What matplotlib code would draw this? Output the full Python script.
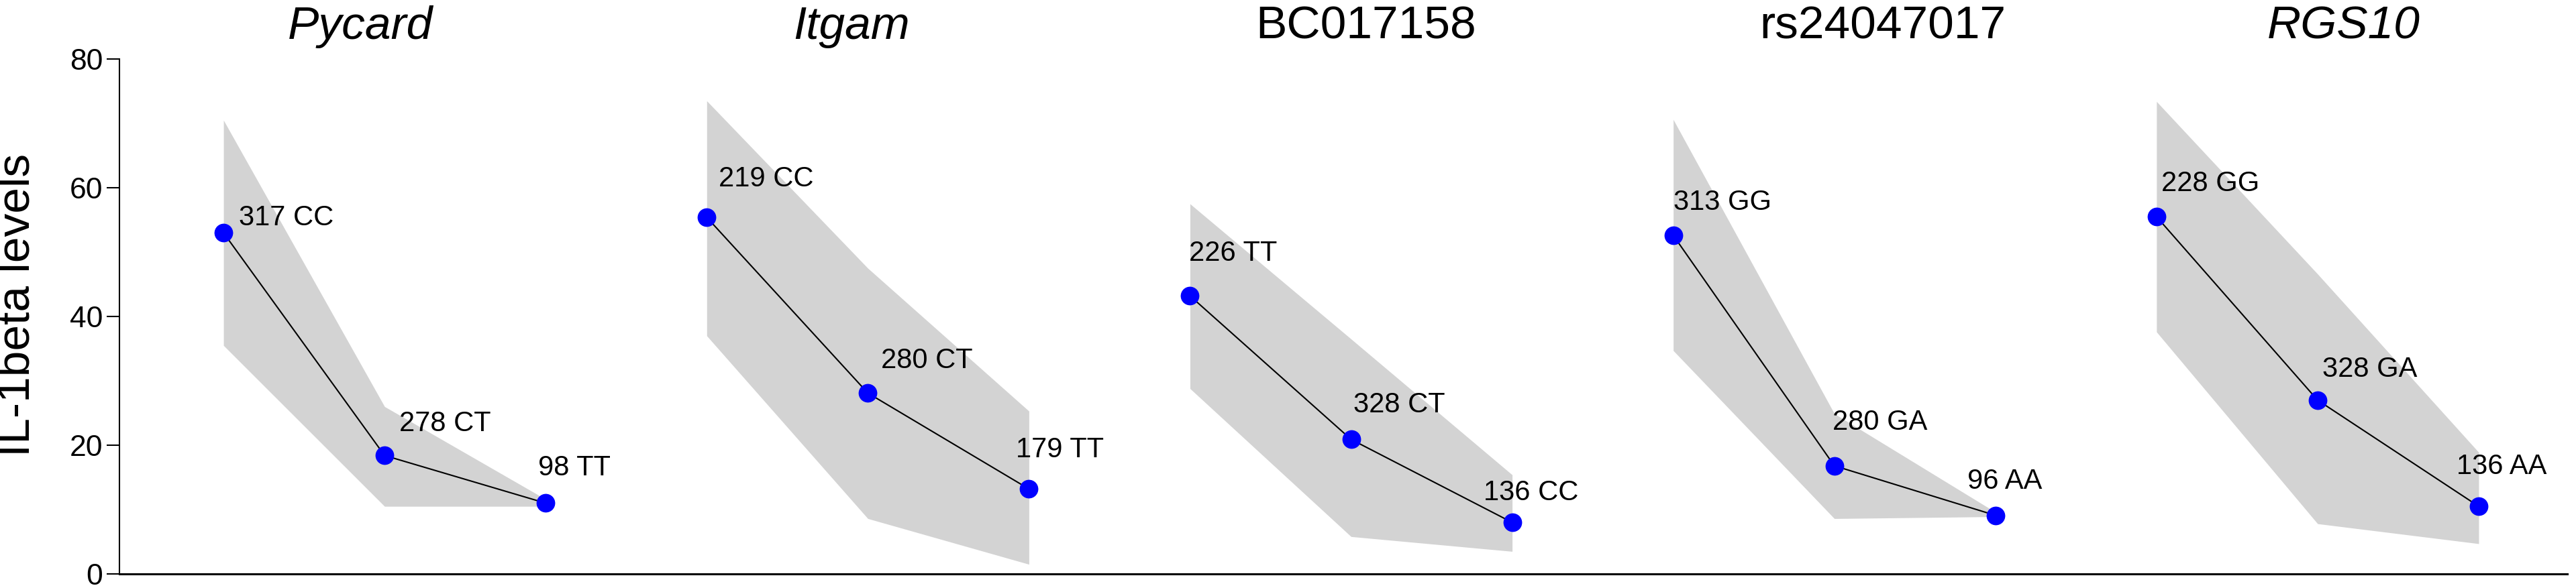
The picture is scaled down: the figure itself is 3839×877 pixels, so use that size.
import matplotlib
matplotlib.use('Agg')
import matplotlib.pyplot as plt
import matplotlib.transforms as mtransforms

matplotlib.rc('font', family=['Liberation Sans', 'DejaVu Sans'])

# data, one group of three genotypes per gene / marker
genes = ['Pycard', 'Itgam', 'BC017158', 'rs24047017', 'RGS10']
italic = [True, True, False, False, True]

means = [[53.0, 18.4, 11.0],
         [55.4, 28.1, 13.2],
         [43.2, 20.9, 8.0],
         [52.6, 16.8, 9.1],
         [55.5, 27.0, 10.5]]
upper = [[70.5, 26.0, 11.6],
         [73.5, 47.5, 25.3],
         [57.5, 36.5, 15.4],
         [70.6, 24.9, 9.6],
         [73.4, 46.6, 18.9]]
lower = [[35.5, 10.5, 10.5],
         [37.0, 8.6, 1.5],
         [28.8, 5.8, 3.5],
         [34.7, 8.6, 8.9],
         [37.6, 7.8, 4.7]]
labels = [['317 CC', '278 CT', '98 TT'],
          ['219 CC', '280 CT', '179 TT'],
          ['226 TT', '328 CT', '136 CC'],
          ['313 GG', '280 GA', '96 AA'],
          ['228 GG', '328 GA', '136 AA']]

yticks = [0, 20, 40, 60, 80]

# layout only: label offsets in pixels, title shifts in x units
label_offsets = [[(23, 22), (22, 47), (-11, 52)],
                 [(18, 57), (20, 48), (-19, 58)],
                 [(-1, 63), (3, 51), (-43, 44)],
                 [(0, 49), (-3, 65), (-42, 51)],
                 [(7, 49), (7, 46), (-33, 59)]]
title_dx = [-0.15, -0.1, 0.09, 0.3, 0.16]

W, H = 3839, 877
fig = plt.figure(figsize=(W / 100.0, H / 100.0), dpi=100)
ax = fig.add_axes([178.0 / W, (H - 856.0) / H, (3826.0 - 178.0) / W, (856.0 - 88.0) / H])

for i, g in enumerate(genes):
    xs = [3 * i + 1, 3 * i + 2, 3 * i + 3]
    ax.fill_between(xs, lower[i], upper[i], color='#d3d3d3', linewidth=0, zorder=1)
    ax.plot(xs, means[i], color='black', linewidth=1.5, zorder=2)
    ax.plot(xs, means[i], 'o', color='#0000ff', markersize=20, markeredgewidth=0, zorder=3)
    for x, y, lab, off in zip(xs, means[i], labels[i], label_offsets[i]):
        ax.annotate(lab, (x, y), xytext=off, textcoords='offset pixels',
                    ha='left', va='center', fontsize=30, zorder=4)
    trans = mtransforms.blended_transform_factory(ax.transData, fig.transFigure)
    ax.text(xs[1] + title_dx[i], 1 - 58.0 / H, g, transform=trans, ha='center',
            va='baseline', fontsize=50, style='italic' if italic[i] else 'normal')

ax.set_xlim(0.354, 15.55)
ax.set_ylim(0, 80)
ax.set_yticks(yticks)
ax.set_xticks([])
ax.tick_params(axis='y', labelsize=32, length=14, width=1.5, pad=4)

ax.spines['top'].set_visible(False)
ax.spines['right'].set_visible(False)
ax.spines['left'].set_linewidth(1.5)
ax.spines['bottom'].set_linewidth(2.2)

fig.text(26.0 / W, 1 - 455.0 / H, 'IL-1beta levels', rotation=90, ha='center',
         va='center', fontsize=50)

plt.savefig('out.png', dpi=100)
